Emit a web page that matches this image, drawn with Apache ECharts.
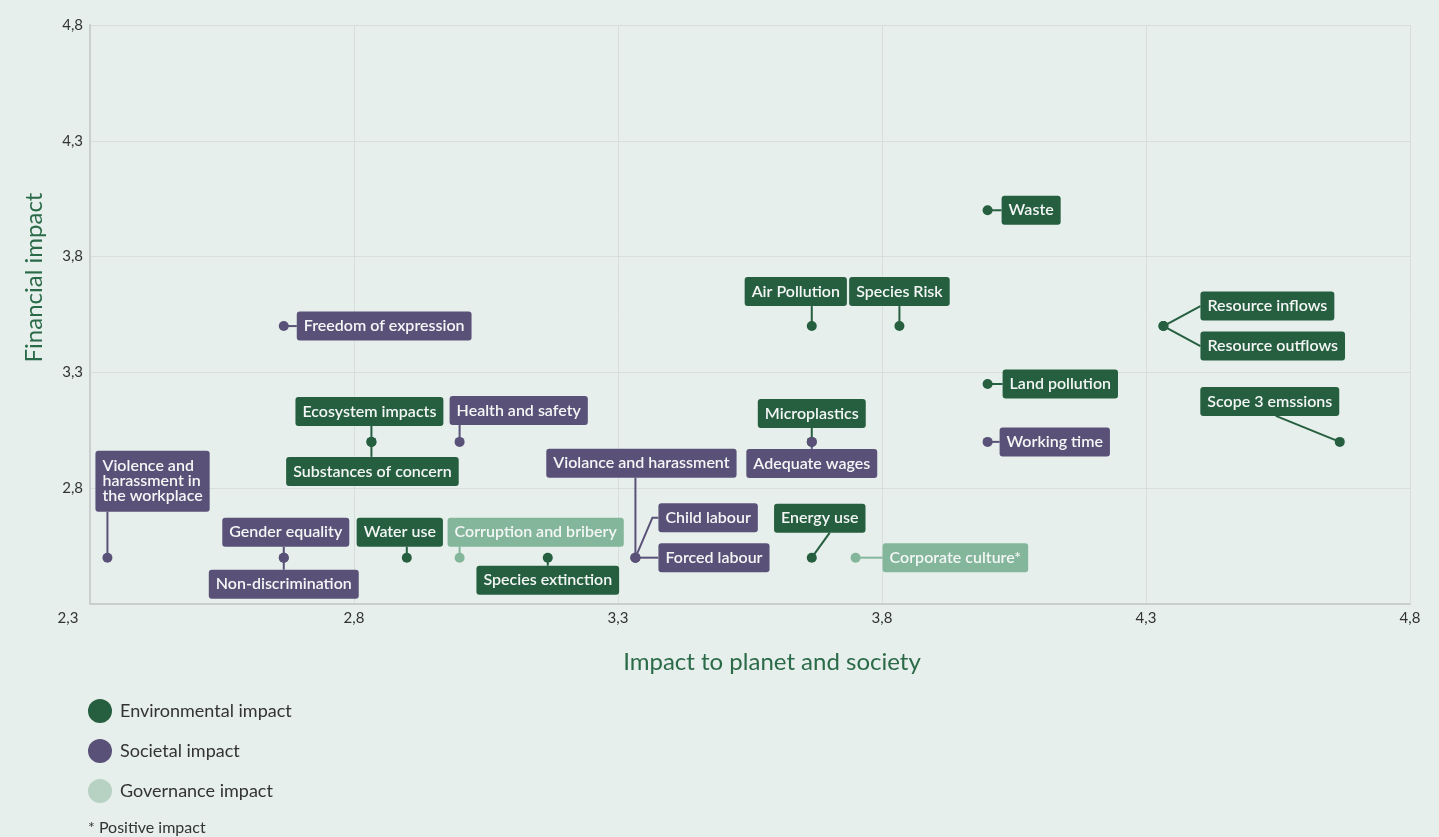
<!DOCTYPE html>
<html>
<head>
<meta charset="utf-8">
<title>Materiality matrix</title>
<script src="https://cdn.jsdelivr.net/npm/echarts@6/dist/echarts.min.js"></script>
<style>
  html, body { margin: 0; padding: 0; background: #e6efeb; }
  #main { width: 1439px; height: 837px; }
</style>
</head>
<body>
<div id="main"></div>
<script>
// topics and their scores
const topics = [
  'Waste', 'Air Pollution', 'Species Risk', 'Resource inflows', 'Resource outflows',
  'Scope 3 emssions', 'Land pollution', 'Microplastics', 'Adequate wages', 'Working time',
  'Freedom of expression', 'Ecosystem impacts', 'Substances of concern', 'Health and safety',
  'Violence and\nharassment in\nthe workplace', 'Gender equality', 'Non-discrimination',
  'Water use', 'Corruption and bribery', 'Species extinction', 'Violance and harassment',
  'Child labour', 'Forced labour', 'Energy use', 'Corporate culture*'
];
const planetImpact = [
  4.0, 3.667, 3.833, 4.333, 4.333,
  4.667, 4.0, 3.667, 3.667, 4.0,
  2.667, 2.833, 2.833, 3.0,
  2.333, 2.667, 2.667,
  2.9, 3.0, 3.167, 3.333,
  3.333, 3.333, 3.667, 3.75
];
const financialImpact = [
  4.0, 3.5, 3.5, 3.5, 3.5,
  3.0, 3.25, 3.0, 3.0, 3.0,
  3.5, 3.0, 3.0, 3.0,
  2.5, 2.5, 2.5,
  2.5, 2.5, 2.5, 2.5,
  2.5, 2.5, 2.5, 2.5
];
// 0 = environmental, 1 = societal, 2 = governance
const impactType = [
  0, 0, 0, 0, 0,
  0, 0, 0, 1, 1,
  1, 0, 0, 1,
  1, 1, 1,
  0, 2, 0, 1,
  1, 1, 0, 2
];
const typeNames = ['Environmental impact', 'Societal impact', 'Governance impact'];
const axisTicks = [2.3, 2.8, 3.3, 3.8, 4.3, 4.8];

const colors = ['#255f40', '#5a5179', '#83b69b'];
const legendColors = ['#255f40', '#5a5179', '#b7d2c3'];

// where each tag sits relative to its dot (pixels); line goes dot -> path points
const tagPos = {
  'Waste': { dx: 14, dy: 0, align: 'left', va: 'middle' },
  'Air Pollution': { dx: -16, dy: -20, align: 'center', va: 'bottom', path: [[0, -20]] },
  'Species Risk': { dx: 0, dy: -20, align: 'center', va: 'bottom' },
  'Resource inflows': { dx: 37, dy: -20, align: 'left', va: 'middle' },
  'Resource outflows': { dx: 37, dy: 20, align: 'left', va: 'middle' },
  'Scope 3 emssions': { dx: -70, dy: -26, align: 'center', va: 'bottom', path: [[-64, -26]] },
  'Land pollution': { dx: 15, dy: 0, align: 'left', va: 'middle' },
  'Microplastics': { dx: 0, dy: -14, align: 'center', va: 'bottom' },
  'Adequate wages': { dx: 0, dy: 7, align: 'center', va: 'top' },
  'Working time': { dx: 12, dy: 0, align: 'left', va: 'middle' },
  'Freedom of expression': { dx: 13, dy: 0, align: 'left', va: 'middle' },
  'Ecosystem impacts': { dx: -2, dy: -16, align: 'center', va: 'bottom', path: [[0, -16]] },
  'Substances of concern': { dx: 1, dy: 15, align: 'center', va: 'top', path: [[0, 15]] },
  'Health and safety': { dx: -10, dy: -17, align: 'left', va: 'bottom', path: [[0, -17]] },
  'Violence and\nharassment in\nthe workplace': { dx: -12, dy: -46, align: 'left', va: 'bottom', path: [[0, -46]] },
  'Gender equality': { dx: 2, dy: -11, align: 'center', va: 'bottom', path: [[0, -11]] },
  'Non-discrimination': { dx: 0, dy: 12, align: 'center', va: 'top', path: [[0, 12]] },
  'Water use': { dx: -7, dy: -11, align: 'center', va: 'bottom', path: [[0, -11]] },
  'Corruption and bribery': { dx: -12, dy: -11, align: 'left', va: 'bottom', path: [[0, -11]] },
  'Species extinction': { dx: 0, dy: 8, align: 'center', va: 'top' },
  'Violance and harassment': { dx: 6, dy: -80, align: 'center', va: 'bottom', path: [[0, -80]] },
  'Child labour': { dx: 23, dy: -40, align: 'left', va: 'middle', path: [[17, -40], [23, -40]] },
  'Forced labour': { dx: 23, dy: 0, align: 'left', va: 'middle' },
  'Energy use': { dx: 8, dy: -25, align: 'center', va: 'bottom', path: [[18, -25]] },
  'Corporate culture*': { dx: 27, dy: 0, align: 'left', va: 'middle' }
};

const fmt = v => v.toFixed(1).replace('.', ',');

const tagData = topics.map((t, i) => [planetImpact[i], financialImpact[i], i]);

const dotSeries = typeNames.map((name, k) => ({
  name: name,
  type: 'scatter',
  symbolSize: 10,
  z: 5,
  itemStyle: { color: colors[k], opacity: 1 },
  data: tagData.filter((d, i) => impactType[i] === k)
}));

const chart = echarts.init(document.getElementById('main'));
chart.setOption({
  backgroundColor: '#e6efeb',
  textStyle: { fontFamily: 'Lato, "Open Sans", sans-serif' },
  animation: false,
  grid: { left: 90, right: 29, top: 25, bottom: 233 },
  xAxis: {
    type: 'value',
    min: axisTicks[0], max: axisTicks[axisTicks.length - 1], interval: 0.5,
    name: 'Impact to planet and society',
    nameLocation: 'middle', nameGap: 46,
    nameTextStyle: { color: '#2b6a48', fontSize: 24, padding: [0, 0, 0, 44] },
    axisLine: { lineStyle: { color: '#c9cfcc', width: 2 } },
    axisTick: { show: false },
    axisLabel: {
      color: '#333', fontSize: 15, margin: 7,
      formatter: v => Math.abs(v - axisTicks[0]) < 1e-6 ? '{m|' + fmt(v) + '}' : fmt(v),
      rich: { m: { fontSize: 15, color: '#333', padding: [0, 44, 0, 0] } }
    },
    splitLine: { show: true, lineStyle: { color: '#d7dedb', width: 1 } }
  },
  yAxis: {
    type: 'value',
    min: axisTicks[0], max: axisTicks[axisTicks.length - 1], interval: 0.5,
    name: 'Financial impact',
    nameLocation: 'middle', nameGap: 44,
    nameTextStyle: { color: '#2b6a48', fontSize: 24, padding: [0, 0, 0, 74] },
    axisLine: { show: true, lineStyle: { color: '#c9cfcc', width: 2 } },
    axisTick: { show: false },
    axisLabel: { color: '#333', fontSize: 15, margin: 7, showMinLabel: false, formatter: fmt },
    splitLine: { show: true, lineStyle: { color: '#d7dedb', width: 1 } }
  },
  legend: {
    orient: 'vertical', left: 88, top: 699, padding: 0,
    icon: 'circle', itemWidth: 24, itemHeight: 24, itemGap: 16,
    textStyle: { fontSize: 18, color: '#333', padding: [0, 0, 0, 3] },
    data: typeNames.map((n, k) => ({ name: n, itemStyle: { color: legendColors[k] } }))
  },
  graphic: [{
    type: 'text', left: 88, top: 820,
    style: { text: '* Positive impact', fill: '#333', font: '16px Lato, sans-serif' }
  }],
  series: [{
    type: 'custom',
    z: 3,
    silent: true,
    data: tagData,
    renderItem: function (params, api) {
      const i = api.value(2);
      const p = api.coord([api.value(0), api.value(1)]);
      const L = tagPos[topics[i]];
      const col = colors[impactType[i]];
      const pts = [[p[0], p[1]]].concat((L.path || [[L.dx, L.dy]]).map(q => [p[0] + q[0], p[1] + q[1]]));
      const multi = topics[i].indexOf('\n') >= 0;
      return {
        type: 'group',
        children: [{
          type: 'polyline',
          shape: { points: pts },
          style: { stroke: col, lineWidth: 2, fill: null }
        }, {
          type: 'text',
          x: p[0] + L.dx, y: p[1] + L.dy,
          style: {
            text: topics[i],
            fill: '#f4f6f5',
            fontFamily: 'Lato, "Open Sans", sans-serif',
            fontSize: 16, fontWeight: 600,
            lineHeight: multi ? 15 : 17,
            align: L.align, verticalAlign: L.va,
            backgroundColor: col,
            padding: multi ? [8, 7, 8, 7] : [6, 7, 6, 7],
            borderRadius: 3
          }
        }]
      };
    }
  }].concat(dotSeries)
});
</script>
</body>
</html>
